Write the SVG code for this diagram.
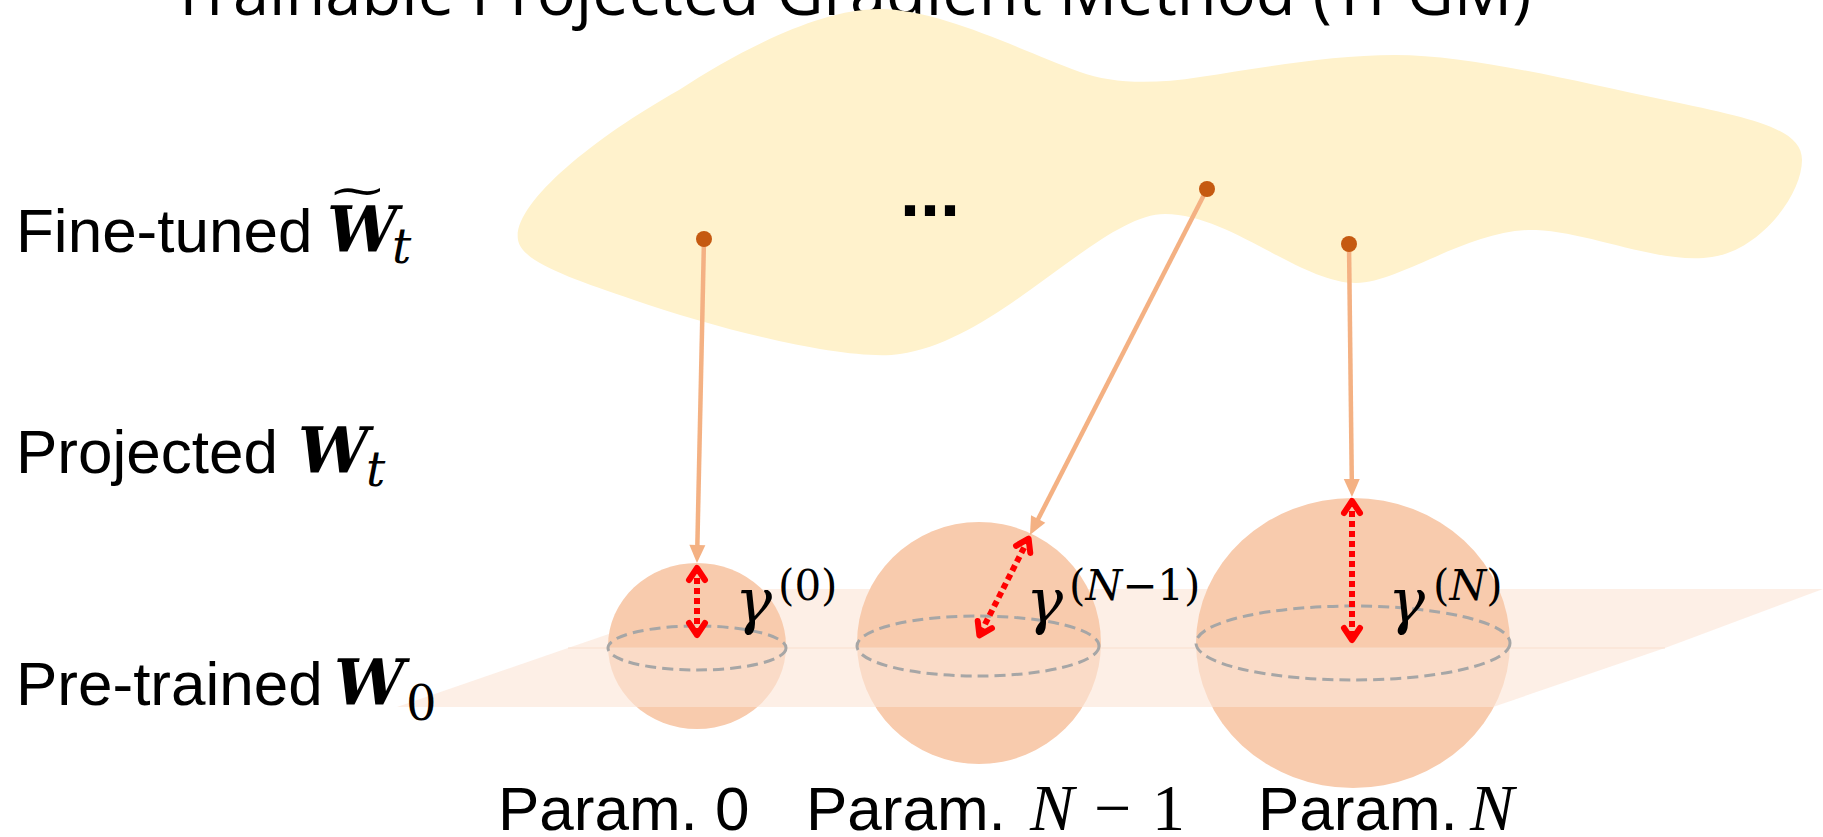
<svg xmlns="http://www.w3.org/2000/svg" width="1823" height="837" viewBox="0 0 1823 837">
<defs>
<style>
.lbl{font-family:"Liberation Sans",Arial,sans-serif;font-size:62px;fill:#000}
.plbl{font-family:"Liberation Sans",Arial,sans-serif;font-size:62px;fill:#000}
.ttl{font-family:"Open Sans","Liberation Sans",sans-serif;font-size:65px;fill:#000}
.mbw{font-family:"DejaVu Serif","Liberation Serif",serif;font-weight:bold;font-style:italic;font-size:63px;fill:#000}
.tld{font-family:"DejaVu Serif","Liberation Serif",serif;font-size:63px;fill:#000}
.msub{font-family:"DejaVu Serif","Liberation Serif",serif;font-style:italic;font-size:48px;fill:#000}
.msubr{font-family:"DejaVu Serif","Liberation Serif",serif;font-size:48px;fill:#000}
.mN{font-family:"Liberation Serif",serif;font-style:italic;font-size:66px;fill:#000}
.mR{font-family:"Liberation Serif",serif;font-size:66px;fill:#000}
.gam{font-family:"DejaVu Serif","Liberation Serif",serif;font-style:italic;font-size:62px;fill:#000}
.sup{font-family:"DejaVu Serif","Liberation Serif",serif;font-size:42px;fill:#000}
.supi{font-style:italic}
.sph{fill:#F8CBAD}
.eq{fill:none;stroke:#A6A6A6;stroke-width:3;stroke-dasharray:11 6}
.plane{fill:#FBE5D6;fill-opacity:0.62}
.proj{stroke:#F4B183;stroke-width:4.5;fill:none;marker-end:url(#oarr)}
.dot{fill:#C55A11}
.rad{stroke:#FF0000;stroke-width:6;stroke-dasharray:6 4;fill:none;marker-start:url(#chev);marker-end:url(#chev)}
</style>
<marker id="oarr" viewBox="-14 -9 22 18" refX="0" refY="0" markerWidth="22" markerHeight="18" markerUnits="userSpaceOnUse" orient="auto">
<path d="M6,0 L-12,-8 L-12,8 Z" fill="#F4B183"/>
</marker>
<marker id="chev" viewBox="-18 -13 24 26" refX="0" refY="0" markerWidth="24" markerHeight="26" markerUnits="userSpaceOnUse" orient="auto-start-reverse">
<path d="M-12,-8 L0,0 L-12,8" fill="none" stroke="#FF0000" stroke-width="6" stroke-linecap="round" stroke-linejoin="round"/>
</marker>
</defs>
<rect width="1823" height="837" fill="#FFFFFF"/>

<text class="ttl" x="851" y="15" text-anchor="middle">Trainable Projected Gradient Method (TPGM)</text>

<g id="finetuned-region">
<path fill="#FFF2CC" d="M518,240 C512,205 590,140 679,90 C740,50 820,9 879,9 C940,9 1020,50 1080,72 C1110,83 1150,85 1200,77 C1260,68 1330,55 1395,55 C1470,55 1570,80 1665,100 C1750,118 1802,128 1802,160 C1802,195 1760,250 1712,257 C1660,265 1590,232 1536,230 C1470,228 1400,283 1356,283 C1300,283 1230,214 1165,214 C1100,214 1000,340 900,354 C850,362 720,330 634,300 C570,278 522,262 518,240 Z"/>
<text class="lbl" x="900" y="216" style="font-weight:bold;font-size:72px">...</text>
</g>

<g id="pretrained-plane-back">
<polygon class="plane" points="568,648 1665,648 1823,589 740,589"/>
</g>

<g id="param-0">
<ellipse class="sph" cx="697" cy="646" rx="89" ry="83"/>
</g>
<g id="param-n-1">
<ellipse class="sph" cx="979" cy="643" rx="122" ry="121"/>
</g>
<g id="param-n">
<ellipse class="sph" cx="1353" cy="643" rx="157" ry="145"/>
</g>

<g id="pretrained-plane-front">
<polygon class="plane" points="397,707 1493,707 1665,648 568,648"/>
<line x1="568" y1="648" x2="1665" y2="648" stroke="#F9DDCB" stroke-opacity="0.6" stroke-width="1.5"/>
</g>

<g id="equators">
<ellipse class="eq" cx="697" cy="648" rx="89" ry="22"/>
<ellipse class="eq" cx="978" cy="646" rx="121" ry="30"/>
<ellipse class="eq" cx="1353" cy="643" rx="157" ry="37"/>
</g>

<g id="connectors">
<line class="proj" x1="704" y1="239" x2="697.1" y2="557"/>
<line class="proj" x1="1207" y1="189" x2="1032.7" y2="529.7"/>
<line class="proj" x1="1349" y1="244" x2="1351.9" y2="491"/>
<circle class="dot" cx="704" cy="239" r="8"/>
<circle class="dot" cx="1207" cy="189" r="8"/>
<circle class="dot" cx="1349" cy="244" r="8"/>
<line class="rad" x1="697" y1="568" x2="697" y2="635"/>
<line class="rad" x1="1028.6" y1="538.7" x2="979.4" y2="635.3"/>
<line class="rad" x1="1352" y1="501" x2="1352" y2="640"/>
</g>

<g id="gamma-labels">
<text class="gam" x="735" y="622">γ</text>
<text class="sup" x="778" y="600">(0)</text>
<text class="gam" x="1026" y="622">γ</text>
<text class="sup" x="1069" y="600">(<tspan class="supi">N</tspan>−1)</text>
<text class="gam" x="1388" y="622">γ</text>
<text class="sup" x="1433" y="600">(<tspan class="supi">N</tspan>)</text>
</g>

<g id="row-labels">
<text class="lbl" x="16" y="252">Fine-tuned</text>
<text class="mbw" x="327" y="252">W</text>
<text class="tld" transform="translate(327,206) scale(1.15,0.7)">~</text>
<text class="msub" x="392" y="263">t</text>
<text class="lbl" x="16" y="473">Projected</text>
<text class="mbw" x="298" y="473">W</text>
<text class="msub" x="366" y="486">t</text>
<text class="lbl" x="16" y="705">Pre-trained</text>
<text class="mbw" x="334" y="705">W</text>
<text class="msubr" x="406" y="720">0</text>
</g>

<g id="param-labels">
<text class="plbl" x="498" y="830">Param. 0</text>
<text class="plbl" x="806" y="830">Param.</text>
<text class="mN" x="1030" y="830">N</text>
<text class="mR" x="1094" y="830">−</text>
<text class="mR" x="1152" y="830">1</text>
<text class="plbl" x="1258" y="830">Param.</text>
<text class="mN" x="1470" y="830">N</text>
</g>
</svg>
